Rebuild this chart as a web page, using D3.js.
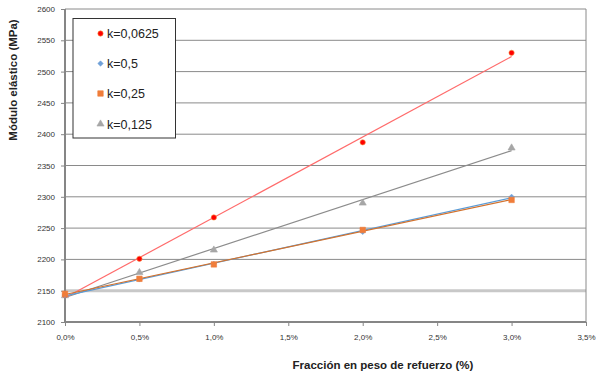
<!DOCTYPE html>
<html><head><meta charset="utf-8">
<script src="https://cdn.jsdelivr.net/npm/d3@7"></script>
<style>body{margin:0;background:#fff}svg{display:block;font-family:"Liberation Sans",Arial,sans-serif}</style>
</head><body>
<svg id="c" width="600" height="377"></svg>
<script>
const xValues = [0, 0.5, 1.0, 2.0, 3.0];
const seriesNames = ["k=0,0625", "k=0,5", "k=0,25", "k=0,125"];
const k00625 = [2143, 2201, 2267, 2387, 2530];
const k05 = [2143, 2168, 2193, 2244, 2300];
const k025 = [2145, 2169, 2192, 2247, 2295];
const k0125 = [2142, 2179, 2215, 2290, 2378];
const xTicks = [0, 0.5, 1.0, 1.5, 2.0, 2.5, 3.0, 3.5];
const yTicks = [2100, 2150, 2200, 2250, 2300, 2350, 2400, 2450, 2500, 2550, 2600];

const series = [
  {name: seriesNames[0], vals: k00625, fill: "#FF0000", stroke: "#F79646", line: "#FF6B6B", shape: "circle", size: 22},
  {name: seriesNames[1], vals: k05, fill: "#6FA0D8", stroke: "#6FA0D8", line: "#5B9BD5", shape: "diamond", size: 14},
  {name: seriesNames[2], vals: k025, fill: "#F07D3A", stroke: "#F07D3A", line: "#D2722E", shape: "square", size: 30},
  {name: seriesNames[3], vals: k0125, fill: "#A6A6A6", stroke: "#A6A6A6", line: "#8C8C8C", shape: "triangle", size: 22}
];
const drawOrder = [3, 0, 1, 2];

const svg = d3.select("#c");
const L = 65, R = 586, T = 9, B = 322;
const x = d3.scaleLinear().domain([0, 3.5]).range([L, R]);
const y = d3.scaleLinear().domain([2100, 2600]).range([B, T]);
const fmtX = d => d3.format(".1f")(d).replace(".", ",") + "%";

// gridlines
svg.append("g").selectAll("line").data(yTicks.filter(d => d > 2100)).join("line")
  .attr("x1", L).attr("x2", R).attr("y1", d => y(d)).attr("y2", d => y(d))
  .attr("stroke", d => d === 2150 ? "#C8C8C8" : "#8A8A8A")
  .attr("stroke-width", d => d === 2150 ? 3 : 1);

// border right
svg.append("line").attr("x1", R).attr("x2", R).attr("y1", T).attr("y2", B).attr("stroke", "#8A8A8A");

// axes
const yAxis = d3.axisLeft(y).tickValues(yTicks).tickSize(4).tickPadding(6).tickFormat(d3.format("d"));
const gy = svg.append("g").attr("transform", `translate(${L},0)`).call(yAxis);
const xAxis = d3.axisBottom(x).tickValues(xTicks).tickSize(4).tickPadding(8).tickFormat(fmtX);
const gx = svg.append("g").attr("transform", `translate(0,${B})`).call(xAxis);
[gx, gy].forEach(g => {
  g.select(".domain").attr("stroke", "#868686").attr("stroke-width", 2);
  g.selectAll(".tick line").attr("stroke", "#868686");
  g.selectAll("text").attr("fill", "#333").attr("font-size", 8);
});
gx.select(".domain").attr("d", `M${L},0H${R}`);
gy.select(".domain").attr("d", `M0,${B}V${T}`);

// trendlines (least squares)
function fit(vals) {
  const mx = d3.mean(xValues), my = d3.mean(vals);
  let sxy = 0, sxx = 0;
  xValues.forEach((xv, i) => { sxy += (xv - mx) * (vals[i] - my); sxx += (xv - mx) ** 2; });
  const b = sxy / sxx; return [my - b * mx, b];
}
drawOrder.forEach(i => {
  const s = series[i];
  const [a, b] = fit(s.vals);
  const x0 = xValues[0], x1 = xValues[xValues.length - 1];
  svg.append("line").attr("x1", x(x0)).attr("y1", y(a + b * x0)).attr("x2", x(x1)).attr("y2", y(a + b * x1))
    .attr("stroke", s.line).attr("stroke-width", 1.2);
});

const symType = {circle: d3.symbolCircle, diamond: d3.symbolSquare, square: d3.symbolSquare, triangle: d3.symbolTriangle};
const symRot = {circle: 0, diamond: 45, square: 0, triangle: 0};
drawOrder.forEach(i => {
  const s = series[i];
  svg.append("g").selectAll("path").data(s.vals).join("path")
    .attr("transform", (d, j) => `translate(${x(xValues[j])},${y(d)}) rotate(${symRot[s.shape]})`)
    .attr("d", d3.symbol().type(symType[s.shape]).size(s.size))
    .attr("fill", s.fill).attr("stroke", s.stroke).attr("stroke-width", 0.6);
});

// legend
svg.append("rect").attr("x", 73).attr("y", 18.5).attr("width", 102.5).attr("height", 119.5)
  .attr("fill", "#fff").attr("stroke", "#333").attr("stroke-width", 1);
const ly = [33.5, 63.5, 93.5, 124];
series.forEach((s, i) => {
  svg.append("path").attr("transform", `translate(100.5,${ly[i]}) rotate(${symRot[s.shape]})`)
    .attr("d", d3.symbol().type(symType[s.shape]).size(s.size))
    .attr("fill", s.fill).attr("stroke", s.stroke).attr("stroke-width", 0.6);
  svg.append("text").attr("x", 107).attr("y", ly[i] + 4.5).attr("font-size", 12.5).attr("fill", "#222").text(s.name);
});

// axis titles
svg.append("text").attr("x", 383).attr("y", 369).attr("text-anchor", "middle")
  .attr("font-size", 11.5).attr("font-weight", "bold").attr("fill", "#222").text("Fracción en peso de refuerzo (%)");
svg.append("text").attr("transform", "translate(17,80) rotate(-90)").attr("text-anchor", "middle")
  .attr("font-size", 11.5).attr("font-weight", "bold").attr("fill", "#222").text("Módulo elástico (MPa)");
</script>
</body></html>
